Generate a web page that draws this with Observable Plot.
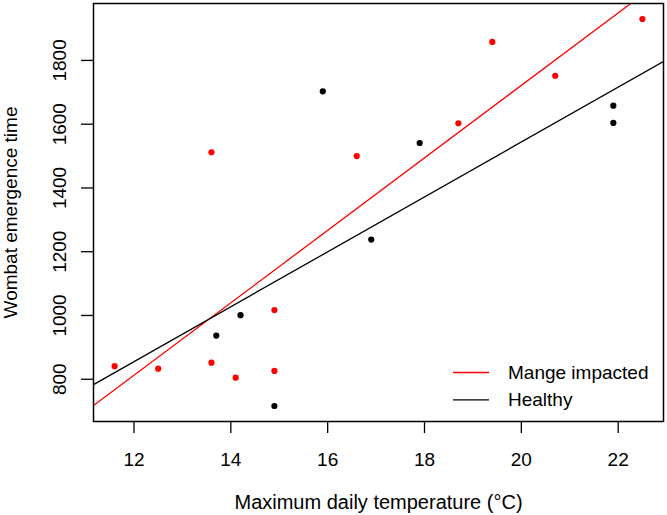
<!DOCTYPE html>
<html>
<head>
<meta charset="utf-8">
<script src="https://cdn.jsdelivr.net/npm/d3@7"></script>
<script src="https://cdn.jsdelivr.net/npm/@observablehq/plot@0.6"></script>
<style>
  html, body { margin: 0; padding: 0; background: #fff; }
  #chart svg { display: block; }
</style>
</head>
<body>
<div id="chart"></div>
<script>
// ---- Data ----
const healthyTemp = [13.7, 14.2, 14.9, 15.9, 16.9, 17.9, 21.9, 21.9];
const healthyTime = [937, 1001, 716, 1703, 1238, 1541, 1658, 1604];
const mangeTemp = [11.6, 12.5, 13.6, 13.6, 14.1, 14.9, 14.9, 16.6, 18.7, 19.4, 20.7, 22.5];
const mangeTime = [841, 833, 852, 1512, 805, 1017, 826, 1500, 1603, 1858, 1752, 1930];
const groupNames = ["Mange impacted", "Healthy"];
const groupColors = ["#ff0000", "#000000"];
const xTicks = [12, 14, 16, 18, 20, 22];
const yTicks = [800, 1000, 1200, 1400, 1600, 1800];
const xTitle = "Maximum daily temperature (°C)";
const yTitle = "Wombat emergence time";

// ---- Build tables ----
const points = [
  ...mangeTemp.map((t, i) => ({temp: t, time: mangeTime[i], group: groupNames[0]})),
  ...healthyTemp.map((t, i) => ({temp: t, time: healthyTime[i], group: groupNames[1]}))
];

// R-style 4% padded domains
function pad(ext) { const s = ext[1] - ext[0]; return [ext[0] - 0.04 * s, ext[1] + 0.04 * s]; }
const xDom = pad(d3.extent(points, d => d.temp));
const yDom = pad(d3.extent(points, d => d.time));

// least-squares fit (like lm + abline), drawn across the full x range
function fit(xs, ys) {
  const mx = d3.mean(xs), my = d3.mean(ys);
  const b = d3.sum(xs, (x, i) => (x - mx) * (ys[i] - my)) / d3.sum(xs, x => (x - mx) ** 2);
  return {a: my - b * mx, b};
}
const fits = [fit(mangeTemp, mangeTime), fit(healthyTemp, healthyTime)];
const lines = [];
fits.forEach((f, k) => xDom.forEach(x => lines.push({temp: x, time: f.a + f.b * x, group: groupNames[k]})));

const font = "'Liberation Sans', Arial, Helvetica, sans-serif";
const fs = 19;

const plot = Plot.plot({
  width: 667,
  height: 515,
  marginLeft: 93,
  marginRight: 4,
  marginTop: 3,
  marginBottom: 94,
  style: {fontFamily: font, fontSize: fs + "px", background: "#fff", color: "#000"},
  x: {domain: xDom},
  y: {domain: yDom},
  color: {domain: groupNames, range: groupColors},
  marks: [
    Plot.axisX({ticks: xTicks, tickSize: 12, tickPadding: 19, label: null, fontSize: fs, strokeWidth: 1.3}),
    Plot.axisY({ticks: yTicks, tickSize: 12, tickFormat: () => "", label: null, strokeWidth: 1.3}),
    Plot.text(yTicks, {y: d => d, text: d => String(d), frameAnchor: "left", rotate: -90,
      textAnchor: "middle", lineAnchor: "middle", dx: -33.5, fontSize: fs}),
    Plot.text([yTitle], {text: d => d, frameAnchor: "left", rotate: -90,
      textAnchor: "middle", lineAnchor: "middle", dx: -83, fontSize: fs}),
    Plot.text([xTitle], {text: d => d, frameAnchor: "bottom",
      textAnchor: "middle", lineAnchor: "middle", dy: 81, fontSize: 20}),
    Plot.line(lines, {x: "temp", y: "time", z: "group", stroke: "group", strokeWidth: 1.3, clip: true}),
    Plot.dot(points, {x: "temp", y: "time", fill: "group", r: 3.1}),
    Plot.frame({stroke: "#000", strokeWidth: 1.5})
  ]
});
document.getElementById("chart").appendChild(plot);

// ---- Legend (bottom-right inside plot, no box) ----
const svg = d3.select(plot);
const right = 667 - 4, bottom = 515 - 94;
const leg = svg.append("g").attr("font-family", font).attr("font-size", fs).attr("text-anchor", "start");
groupNames.forEach((name, i) => {
  const cy = bottom - 48.5 + i * 27.3;
  leg.append("line").attr("x1", right - 210).attr("x2", right - 174)
    .attr("y1", cy).attr("y2", cy).attr("stroke", groupColors[i]).attr("stroke-width", 1.3);
  leg.append("text").attr("x", right - 155).attr("y", cy).attr("dy", "0.35em")
    .attr("text-anchor", "start").attr("fill", "#000").text(name);
});
</script>
</body>
</html>
